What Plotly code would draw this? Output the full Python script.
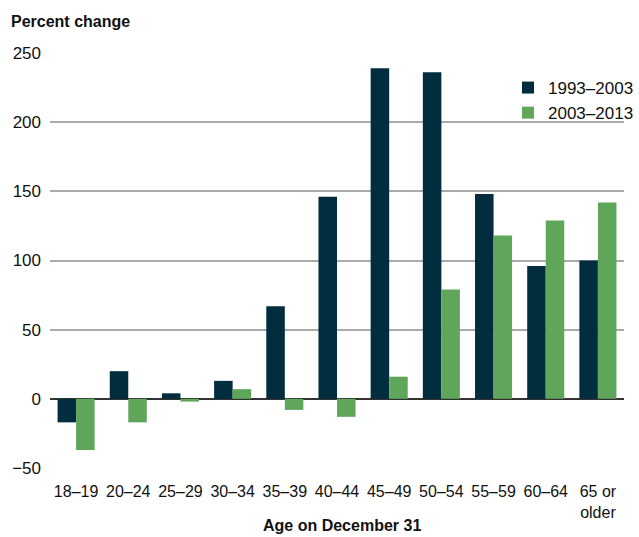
import plotly.graph_objects as go

# 年龄组与两个时期的百分比变化
age_groups = ['18–19', '20–24', '25–29', '30–34', '35–39', '40–44',
              '45–49', '50–54', '55–59', '60–64', '65 or<br>older']
change_1993_2003 = [-17, 20, 4, 13, 67, 146, 239, 236, 148, 96, 100]
change_2003_2013 = [-37, -17, -2, 7, -8, -13, 16, 79, 118, 129, 142]
y_ticks = [-50, 0, 50, 100, 150, 200, 250]

font_family = 'Liberation Sans, Arial, sans-serif'

fig = go.Figure()
fig.add_trace(go.Bar(x=age_groups, y=change_1993_2003, name='1993–2003',
                     marker=dict(color='#012d3e', line=dict(width=0))))
fig.add_trace(go.Bar(x=age_groups, y=change_2003_2013, name='2003–2013',
                     marker=dict(color='#5fa65b', line=dict(width=0))))

fig.update_layout(
    width=639, height=537,
    margin=dict(l=50, r=0, t=53, b=69),
    plot_bgcolor='white', paper_bgcolor='white',
    barmode='group', bargap=0.29, bargroupgap=0,
    font=dict(family=font_family, size=17, color='#111111'),
    showlegend=True,
    legend=dict(x=(520-50)/589, y=1 - 17/415, xanchor='left', yanchor='top',
                bgcolor='rgba(0,0,0,0)', font=dict(size=17),
                itemwidth=30, tracegroupgap=0),
    xaxis=dict(showgrid=False, showline=False, ticks='',
               tickfont=dict(size=16), ticklabelstandoff=12,
               automargin=False),
    yaxis=dict(range=[-50, 250], tickvals=y_ticks, showgrid=True,
               gridcolor='#aaaaaa', gridwidth=1.5, zeroline=True,
               zerolinecolor='#333333', zerolinewidth=1.5,
               ticks='', tickfont=dict(size=17), ticklabelstandoff=8,
               automargin=False),
    annotations=[
        dict(text='<b>Percent change</b>', xref='paper', yref='paper',
             x=-42/589, y=1 + 31/415, xanchor='left', yanchor='middle',
             showarrow=False, font=dict(size=16)),
        dict(text='<b>Age on December 31</b>', xref='paper', yref='paper',
             x=(350-50)/589, y=-57/415, xanchor='center', yanchor='middle',
             showarrow=False, font=dict(size=16)),
    ],
)

fig.write_html('out.html', config={'displayModeBar': False},
               post_script="document.body.style.margin='0';")
